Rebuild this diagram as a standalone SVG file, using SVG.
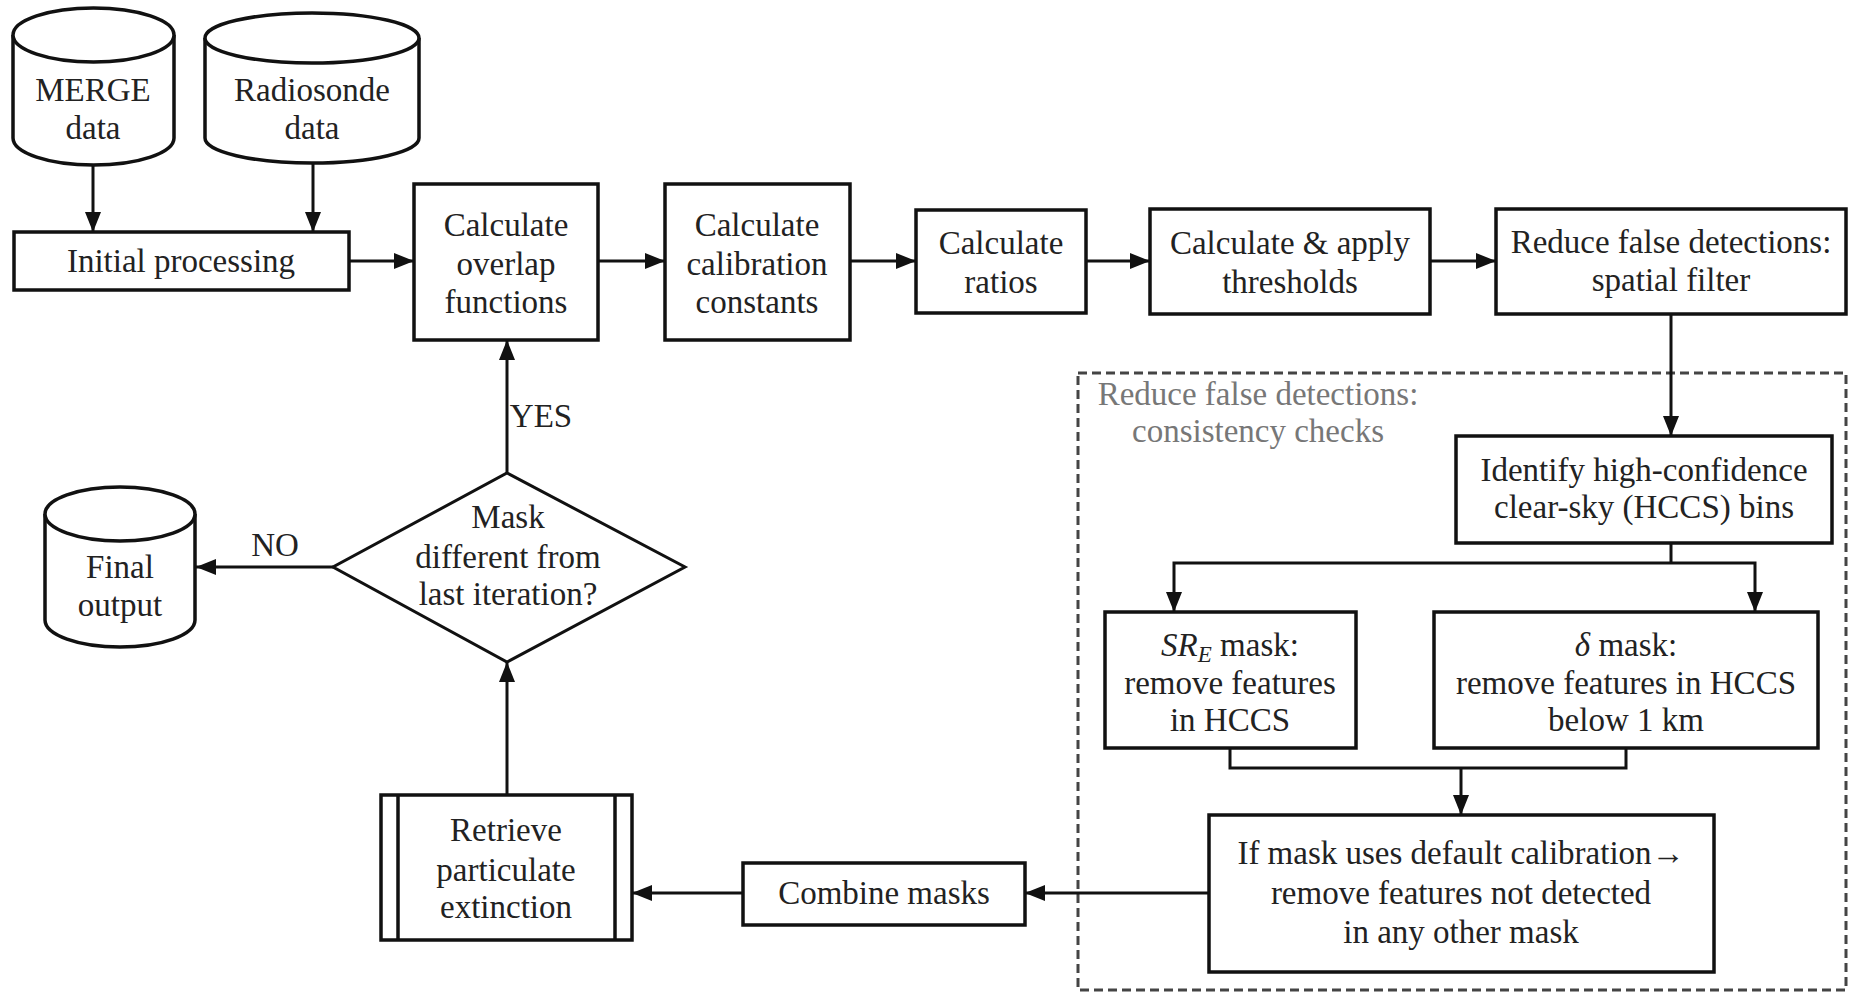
<svg xmlns="http://www.w3.org/2000/svg" width="1853" height="997" viewBox="0 0 1853 997">
<style>
.box{fill:#fff;stroke:#111;stroke-width:3.5}
.cyl{fill:#fff;stroke:#111;stroke-width:3.5}
.t{font-family:"Liberation Serif","Times New Roman",serif;font-size:33px;fill:#222;text-anchor:middle}
.lbl{font-family:"Liberation Serif","Times New Roman",serif;font-size:33px;fill:#777;text-anchor:middle}
.c{fill:none;stroke:#111;stroke-width:3}
.ca{fill:none;stroke:#111;stroke-width:3;marker-end:url(#ah)}
</style>
<defs>
<marker id="ah" viewBox="0 0 20 16" refX="20" refY="8" markerWidth="20" markerHeight="16" markerUnits="userSpaceOnUse" orient="auto">
<path d="M0,0 L20,8 L0,16 Z" fill="#111"/>
</marker>
</defs>
<rect width="1853" height="997" fill="#fff"/>

<g id="group-consistency">
<rect x="1078" y="373" width="768" height="617" fill="none" stroke="#444" stroke-width="3" stroke-dasharray="9 5"/>
<text class="lbl" x="1258" y="405">Reduce false detections:</text>
<text class="lbl" x="1258" y="442">consistency checks</text>
</g>

<g id="connectors">
<line class="ca" x1="93" y1="165" x2="93" y2="232"/>
<line class="ca" x1="313" y1="164" x2="313" y2="232"/>
<line class="ca" x1="349" y1="261" x2="414" y2="261"/>
<line class="ca" x1="598" y1="261" x2="665" y2="261"/>
<line class="ca" x1="850" y1="261" x2="916" y2="261"/>
<line class="ca" x1="1086" y1="261" x2="1150" y2="261"/>
<line class="ca" x1="1430" y1="261" x2="1496" y2="261"/>
<line class="ca" x1="1671" y1="314" x2="1671" y2="436"/>
<polyline class="c" points="1671,543 1671,563"/>
<polyline class="ca" points="1671,563 1174,563 1174,612"/>
<polyline class="ca" points="1671,563 1755,563 1755,612"/>
<polyline class="c" points="1230,748 1230,768 1626,768 1626,748"/>
<line class="ca" x1="1461" y1="768" x2="1461" y2="815"/>
<line class="ca" x1="1209" y1="893" x2="1025" y2="893"/>
<line class="ca" x1="743" y1="893" x2="632" y2="893"/>
<line class="ca" x1="507" y1="795" x2="507" y2="662"/>
<line class="ca" x1="507" y1="473" x2="507" y2="340"/>
<line class="ca" x1="333" y1="567" x2="196" y2="567"/>
<text class="t" x="541" y="427">YES</text>
<text class="t" x="275" y="556">NO</text>
</g>

<g id="node-merge">
<path class="cyl" d="M13,35 L13,138 A80.5,27 0 0 0 174,138 L174,35"/>
<ellipse class="cyl" cx="93.5" cy="35" rx="80.5" ry="27"/>
<text class="t" x="93" y="101">MERGE</text>
<text class="t" x="93" y="139">data</text>
</g>

<g id="node-radiosonde">
<path class="cyl" d="M205,38 L205,138 A107,25 0 0 0 419,138 L419,38"/>
<ellipse class="cyl" cx="312" cy="38" rx="107" ry="25"/>
<text class="t" x="312" y="101">Radiosonde</text>
<text class="t" x="312" y="139">data</text>
</g>

<g id="node-initial">
<rect class="box" x="14" y="232" width="335" height="58"/>
<text class="t" x="181" y="272">Initial processing</text>
</g>

<g id="node-overlap">
<rect class="box" x="414" y="184" width="184" height="156"/>
<text class="t" x="506" y="236">Calculate</text>
<text class="t" x="506" y="275">overlap</text>
<text class="t" x="506" y="313">functions</text>
</g>

<g id="node-calibration">
<rect class="box" x="665" y="184" width="185" height="156"/>
<text class="t" x="757" y="236">Calculate</text>
<text class="t" x="757" y="275">calibration</text>
<text class="t" x="757" y="313">constants</text>
</g>

<g id="node-ratios">
<rect class="box" x="916" y="210" width="170" height="103"/>
<text class="t" x="1001" y="254">Calculate</text>
<text class="t" x="1001" y="293">ratios</text>
</g>

<g id="node-thresholds">
<rect class="box" x="1150" y="209" width="280" height="105"/>
<text class="t" x="1290" y="254">Calculate &amp; apply</text>
<text class="t" x="1290" y="293">thresholds</text>
</g>

<g id="node-spatial">
<rect class="box" x="1496" y="209" width="350" height="105"/>
<text class="t" x="1671" y="253">Reduce false detections:</text>
<text class="t" x="1671" y="291">spatial filter</text>
</g>

<g id="node-hccs">
<rect class="box" x="1456" y="436" width="376" height="107"/>
<text class="t" x="1644" y="481">Identify high-confidence</text>
<text class="t" x="1644" y="518">clear-sky (HCCS) bins</text>
</g>

<g id="node-sre">
<rect class="box" x="1105" y="612" width="251" height="136"/>
<text class="t" x="1230" y="656"><tspan font-style="italic">SR</tspan><tspan font-style="italic" font-size="23" baseline-shift="-6">E</tspan> mask:</text>
<text class="t" x="1230" y="694">remove features</text>
<text class="t" x="1230" y="731">in HCCS</text>
</g>

<g id="node-delta">
<rect class="box" x="1434" y="612" width="384" height="136"/>
<text class="t" x="1626" y="656"><tspan font-style="italic">δ</tspan> mask:</text>
<text class="t" x="1626" y="694">remove features in HCCS</text>
<text class="t" x="1626" y="731">below 1 km</text>
</g>

<g id="node-default">
<rect class="box" x="1209" y="815" width="505" height="157"/>
<text class="t" x="1461" y="864">If mask uses default calibration→</text>
<text class="t" x="1461" y="904">remove features not detected</text>
<text class="t" x="1461" y="943">in any other mask</text>
</g>

<g id="node-combine">
<rect class="box" x="743" y="863" width="282" height="62"/>
<text class="t" x="884" y="904">Combine masks</text>
</g>

<g id="node-retrieve">
<rect class="box" x="381" y="795" width="251" height="145"/>
<line x1="398" y1="795" x2="398" y2="940" stroke="#111" stroke-width="3.5"/>
<line x1="615" y1="795" x2="615" y2="940" stroke="#111" stroke-width="3.5"/>
<text class="t" x="506" y="841">Retrieve</text>
<text class="t" x="506" y="881">particulate</text>
<text class="t" x="506" y="918">extinction</text>
</g>

<g id="node-decision">
<polygon points="507,473 685,567 507,662 333,567" fill="#fff" stroke="#111" stroke-width="3"/>
<text class="t" x="508" y="528">Mask</text>
<text class="t" x="508" y="568">different from</text>
<text class="t" x="508" y="605">last iteration?</text>
</g>

<g id="node-final">
<path class="cyl" d="M45,514 L45,620 A75,27 0 0 0 195,620 L195,514"/>
<ellipse class="cyl" cx="120" cy="514" rx="75" ry="27"/>
<text class="t" x="120" y="578">Final</text>
<text class="t" x="120" y="616">output</text>
</g>
</svg>
